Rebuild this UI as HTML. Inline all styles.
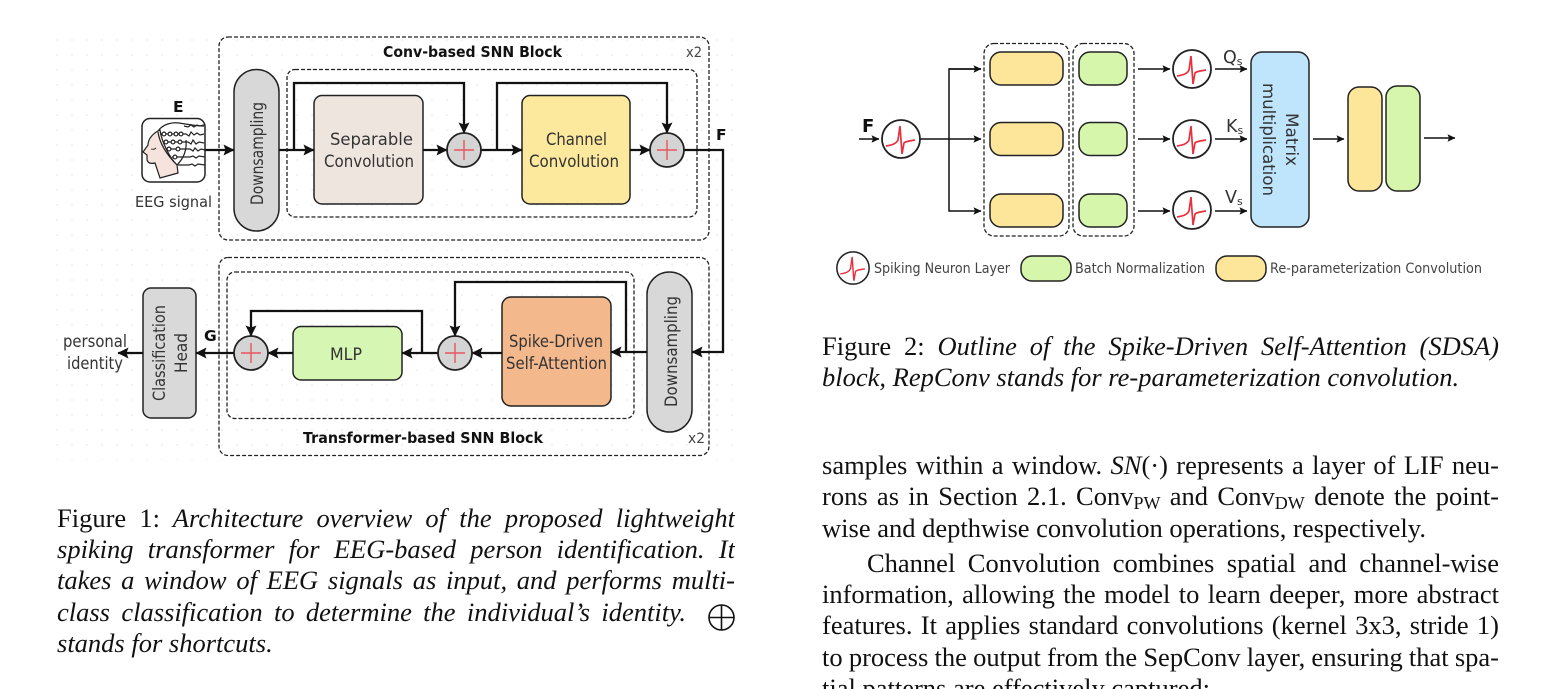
<!DOCTYPE html>
<html lang="en">
<head>
<meta charset="utf-8">
<title>Figures</title>
<style>
html,body{margin:0;padding:0;background:#fff;width:1555px;height:689px;overflow:hidden}
svg{display:block;position:absolute;left:0;top:0}
#all{position:absolute;left:0;top:0;width:1555px;height:689px;overflow:hidden;filter:blur(.35px)}
.s{font-family:"DejaVu Sans","Liberation Sans",sans-serif;fill:#333;font-size:16.5px}
.b{font-family:"DejaVu Sans","Liberation Sans",sans-serif;fill:#111;font-size:15.5px;font-weight:bold}
.l{font-family:"DejaVu Sans","Liberation Sans",sans-serif;fill:#444;font-size:14.5px}
.t{position:absolute;font-family:"Liberation Serif",serif;font-size:26.5px;line-height:30px;height:30px;color:#111;word-spacing:-3px;overflow:hidden}
.j{text-align:justify;text-align-last:justify}
.i{font-style:italic}
.t span.n{font-style:normal}
.t span.m{font-style:italic}
.t span.u{font-size:18px;position:relative;top:4px;line-height:0}
.f{word-spacing:0}
</style>
</head>
<body>
<div id="all">
<svg width="1555" height="689" viewBox="0 0 1555 689" xmlns="http://www.w3.org/2000/svg">
<defs>
<pattern id="dots" width="15" height="15" patternUnits="userSpaceOnUse" x="50" y="33"><rect x="6" y="6" width="2" height="2" fill="#f2f2f2"/></pattern>
<marker id="a" markerUnits="userSpaceOnUse" markerWidth="12" markerHeight="12" refX="10.500" refY="6" orient="auto"><path d="M0,.5 L11,6 L0,11.500 L2,6 Z" fill="#111"/></marker>
<marker id="t" markerUnits="userSpaceOnUse" markerWidth="9" markerHeight="9" refX="7.500" refY="4.500" orient="auto"><path d="M0,.8 L8,4.500 L0,8.200 L1.500,4.500 Z" fill="#111"/></marker>
<g id="plus"><circle r="17" fill="#d4d4d4" stroke="#222" stroke-width="1.800"/><path d="M-10,0H10M0,-10V10" stroke="#e9545e" stroke-width="1.400"/></g>
<g id="neuron"><circle r="19" fill="#fff" stroke="#222" stroke-width="1.800"/><path d="M-15,7C-9,6-5,5-3,1L-1,-13L1,15L3,4C5,2 9,2 14,1" fill="none" stroke="#e8303f" stroke-width="1.700"/></g>
</defs>

<rect width="1555" height="689" fill="#fff"/>
<rect x="50" y="33" width="685" height="427" fill="url(#dots)"/>

<g fill="none" stroke="#222" stroke-width="1.300" stroke-dasharray="4 2">
<rect x="219" y="37" width="490" height="203" rx="9"/>
<rect x="287" y="69.500" width="410" height="147.500" rx="8"/>
<rect x="219" y="257.500" width="490" height="198" rx="9"/>
<rect x="227" y="272" width="407" height="146.500" rx="8"/>
</g>

<g stroke="#222" stroke-width="1.500">
<rect x="234" y="69.500" width="45" height="161.500" rx="22.500" fill="#d8d8d8"/>
<rect x="314" y="95.500" width="109" height="108.500" rx="8" fill="#efe5df"/>
<rect x="522" y="95.500" width="108" height="108.500" rx="8" fill="#fce99e"/>
<rect x="647" y="272" width="45" height="160" rx="22.500" fill="#d8d8d8"/>
<rect x="502" y="297" width="109" height="109" rx="9" fill="#f4b88d"/>
<rect x="293" y="326.500" width="109" height="53.500" rx="8" fill="#d6f6b3"/>
<rect x="143" y="288" width="53" height="130" rx="8" fill="#d9d9d9"/>
</g>

<g fill="none" stroke="#111" stroke-width="2.300">
<path d="M205,150H234" marker-end="url(#a)"/>
<path d="M279,150H314" marker-end="url(#a)"/>
<path d="M294,150V83H464V133" marker-end="url(#a)"/>
<path d="M423,150H447" marker-end="url(#a)"/>
<path d="M481,150H522" marker-end="url(#a)"/>
<path d="M497,150V83H667V133" marker-end="url(#a)"/>
<path d="M630,150H650" marker-end="url(#a)"/>
<path d="M684,150H723V352H692" marker-end="url(#a)"/>
<path d="M647,352H611" marker-end="url(#a)"/>
<path d="M626,352V282H455V336" marker-end="url(#a)"/>
<path d="M502,353H472" marker-end="url(#a)"/>
<path d="M438,353H402" marker-end="url(#a)"/>
<path d="M422,353V311H251V336" marker-end="url(#a)"/>
<path d="M293,353H268" marker-end="url(#a)"/>
<path d="M234,353H196" marker-end="url(#a)"/>
<path d="M143,353H118" marker-end="url(#a)"/>
</g>
<use href="#plus" x="464" y="150"/>
<use href="#plus" x="667" y="150"/>
<use href="#plus" x="455" y="353"/>
<use href="#plus" x="251" y="353"/>

<!-- EEG icon -->
<rect x="142" y="118.500" width="63" height="63.500" rx="8" fill="#fff" stroke="#222" stroke-width="1.500"/>
<path d="M160,130C153,133 148,139 148,145L143,152L147,155L147,160C148,163 151,164 155,163L160,178L178,173L177,165C170,158 162,143 160,130Z" fill="#f6e3dd" stroke="#222" stroke-width="1.200"/>
<path d="M158,131C163,124 172,122 179,123C186,124 195,126 204,126" fill="none" stroke="#222" stroke-width="1.200"/>
<path d="M158,132C160,146 170,158 177,165C184,158 187,150 186,140" fill="none" stroke="#222" stroke-width="1.200"/>
<g fill="none" stroke="#222" stroke-width="1.200">
<path d="M184,126l4,1 3,-2 3,2 3,-2 3,1 4,-1"/>
<path d="M160,134H186l3,2 2,-4 3,3 3,-2 3,2 4,-1"/>
<path d="M163,142H188l3,2 2,-4 3,4 3,-2 5,1"/>
<path d="M166,149H190l3,2 2,-3 3,3 3,-2 4,1"/>
<path d="M172,157H190l3,-1 3,2 3,-2 6,1"/>
<path d="M178,165H189l3,-1 3,2 3,-2 7,1"/>
<g fill="#fff"><circle cx="164" cy="134" r="1.900"/><circle cx="170" cy="134" r="1.900"/><circle cx="176" cy="134" r="1.900"/><circle cx="181" cy="134" r="1.900"/>
<circle cx="166" cy="142" r="1.900"/><circle cx="173" cy="142" r="1.900"/><circle cx="180" cy="142" r="1.900"/>
<circle cx="169" cy="149" r="1.900"/><circle cx="178" cy="149" r="1.900"/>
<circle cx="175" cy="157" r="1.900"/></g>
<path d="M151,149q3,1 5,-1" stroke-width=".9"/>
</g>

<text class="b" x="383" y="57" textLength="179" lengthAdjust="spacingAndGlyphs">Conv-based SNN Block</text>
<text class="l" x="686" y="57" textLength="16" lengthAdjust="spacingAndGlyphs">x2</text>
<text class="b" x="303" y="443" textLength="240" lengthAdjust="spacingAndGlyphs">Transformer-based SNN Block</text>
<text class="l" x="688" y="443" textLength="17" lengthAdjust="spacingAndGlyphs">x2</text>
<text class="b" x="173" y="112">E</text>
<text class="s" x="135" y="207" textLength="77" lengthAdjust="spacingAndGlyphs" style="font-size:15px">EEG signal</text>
<text class="b" x="716" y="140">F</text>
<text class="b" x="204" y="341">G</text>
<text class="s" x="330" y="145" textLength="83" lengthAdjust="spacingAndGlyphs">Separable</text>
<text class="s" x="324" y="167" textLength="90" lengthAdjust="spacingAndGlyphs">Convolution</text>
<text class="s" x="546" y="145" textLength="61" lengthAdjust="spacingAndGlyphs">Channel</text>
<text class="s" x="529" y="167" textLength="90" lengthAdjust="spacingAndGlyphs">Convolution</text>
<text class="s" x="509" y="347" textLength="94" lengthAdjust="spacingAndGlyphs">Spike-Driven</text>
<text class="s" x="506" y="369" textLength="101" lengthAdjust="spacingAndGlyphs">Self-Attention</text>
<text class="s" x="330" y="360" textLength="32" lengthAdjust="spacingAndGlyphs">MLP</text>
<text class="s" x="63" y="347" textLength="64" lengthAdjust="spacingAndGlyphs">personal</text>
<text class="s" x="67" y="369" textLength="56" lengthAdjust="spacingAndGlyphs">identity</text>
<text class="s" transform="translate(263,205) rotate(-90)" textLength="103" lengthAdjust="spacingAndGlyphs">Downsampling</text>
<text class="s" transform="translate(677,407) rotate(-90)" textLength="111" lengthAdjust="spacingAndGlyphs">Downsampling</text>
<text class="s" transform="translate(165,401) rotate(-90)" textLength="96" lengthAdjust="spacingAndGlyphs">Classification</text>
<text class="s" transform="translate(187,373) rotate(-90)" textLength="40" lengthAdjust="spacingAndGlyphs">Head</text>

<!-- FIGURE 2 -->
<g fill="none" stroke="#222" stroke-width="1.300" stroke-dasharray="4 2">
<rect x="984" y="43.500" width="85" height="192.500" rx="10"/>
<rect x="1073" y="43.500" width="61" height="192.500" rx="10"/>
</g>
<g stroke="#222" stroke-width="1.500">
<rect x="990" y="52" width="73" height="33" rx="11" fill="#fde69a"/>
<rect x="990" y="122.500" width="73" height="33" rx="11" fill="#fde69a"/>
<rect x="990" y="194" width="73" height="33" rx="11" fill="#fde69a"/>
<rect x="1079" y="52" width="48" height="33" rx="11" fill="#d6f6ac"/>
<rect x="1079" y="122.500" width="48" height="33" rx="11" fill="#d6f6ac"/>
<rect x="1079" y="194" width="48" height="33" rx="11" fill="#d6f6ac"/>
<rect x="1251" y="52" width="58" height="175" rx="11" fill="#bfe5fd"/>
<rect x="1348" y="87" width="34" height="104" rx="11" fill="#fde69a"/>
<rect x="1386" y="86" width="34" height="105" rx="11" fill="#d6f6ac"/>
<rect x="1021" y="256" width="50" height="25" rx="11" fill="#d6f6ac"/>
<rect x="1216" y="256" width="50" height="25" rx="11" fill="#fde69a"/>
</g>
<g fill="none" stroke="#111" stroke-width="1.500">
<path d="M859,139H879" marker-end="url(#t)"/>
<path d="M920,139H981" marker-end="url(#t)"/>
<path d="M981,69H949V211H981" marker-end="url(#t)"/>
<path d="M949,69H981" marker-end="url(#t)"/>
<path d="M1138,69H1170" marker-end="url(#t)"/>
<path d="M1138,139H1170" marker-end="url(#t)"/>
<path d="M1138,211H1170" marker-end="url(#t)"/>
<path d="M1215,69H1247" marker-end="url(#t)"/>
<path d="M1215,139H1247" marker-end="url(#t)"/>
<path d="M1215,211H1247" marker-end="url(#t)"/>
<path d="M1313,139H1344" marker-end="url(#t)"/>
<path d="M1424,138H1455" marker-end="url(#t)"/>
</g>
<use href="#neuron" x="901" y="139"/>
<use href="#neuron" x="1192" y="69"/>
<use href="#neuron" x="1192" y="139"/>
<use href="#neuron" x="1192" y="210"/>
<use href="#neuron" transform="translate(853,268) scale(.85)"/>

<text class="b" x="862" y="132" style="font-size:18px">F</text>
<text class="s" x="1223" y="63" style="font-size:17.500px">Q<tspan font-size="11" dy="2">s</tspan></text>
<text class="s" x="1226" y="132" style="font-size:17.500px">K<tspan font-size="11" dy="2">s</tspan></text>
<text class="s" x="1225" y="203" style="font-size:17.500px">V<tspan font-size="11" dy="2">s</tspan></text>
<text class="s" transform="translate(1286,113) rotate(90)" textLength="53" lengthAdjust="spacingAndGlyphs">Matrix</text>
<text class="s" transform="translate(1263,83) rotate(90)" textLength="113" lengthAdjust="spacingAndGlyphs">multiplication</text>
<text class="l" x="874" y="273" textLength="136" lengthAdjust="spacingAndGlyphs">Spiking Neuron Layer</text>
<text class="l" x="1075" y="273" textLength="130" lengthAdjust="spacingAndGlyphs">Batch Normalization</text>
<text class="l" x="1270" y="273" textLength="212" lengthAdjust="spacingAndGlyphs">Re-parameterization Convolution</text>

<g fill="none" stroke="#111" stroke-width="1.600"><circle cx="721.500" cy="617.500" r="12.500"/><path d="M709,617.500H734M721.500,605V630"/></g>
</svg>

<div class="t i j" style="left:57px;top:503px;width:678px"><span class="n">Figure 1:</span> Architecture overview of the proposed lightweight</div>
<div class="t i j" style="left:57px;top:534px;width:678px">spiking transformer for EEG-based person identification. It</div>
<div class="t i j" style="left:57px;top:565px;width:678px">takes a window of EEG signals as input, and performs multi-</div>
<div class="t i j" style="left:57px;top:597px;width:629px">class classification to determine the individual’s identity.</div>
<div class="t i f" style="left:57px;top:628px;width:400px">stands for shortcuts.</div>

<div class="t i j" style="left:822px;top:331px;width:677px"><span class="n">Figure 2:</span> Outline of the Spike-Driven Self-Attention (SDSA)</div>
<div class="t i f" style="left:822px;top:362px;width:677px">block, RepConv stands for re-parameterization convolution.</div>

<div class="t j" style="left:822px;top:450px;width:677px">samples within a window. <span class="m">SN</span>(·) represents a layer of LIF neu-</div>
<div class="t j" style="left:822px;top:481px;width:677px">rons as in Section 2.1. Conv<span class="u">PW</span> and Conv<span class="u">DW</span> denote the point-</div>
<div class="t f" style="left:822px;top:513px;width:677px">wise and depthwise convolution operations, respectively.</div>
<div class="t j" style="left:867px;top:548px;width:632px">Channel Convolution combines spatial and channel-wise</div>
<div class="t j" style="left:822px;top:579px;width:677px">information, allowing the model to learn deeper, more abstract</div>
<div class="t j" style="left:822px;top:610px;width:677px">features. It applies standard convolutions (kernel 3x3, stride 1)</div>
<div class="t j" style="left:822px;top:642px;width:677px">to process the output from the SepConv layer, ensuring that spa-</div>
<div class="t f" style="left:822px;top:673px;width:677px">tial patterns are effectively captured:</div>
</div>
</body>
</html>
